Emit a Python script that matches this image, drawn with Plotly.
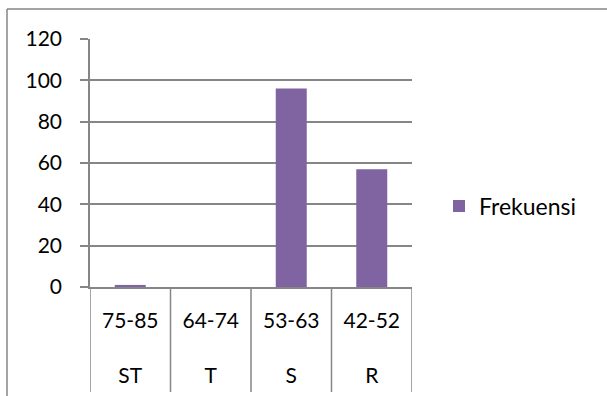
import plotly.graph_objects as go

# Frequency table by score category
kategori = ["ST", "T", "S", "R"]
rentang = ["75-85", "64-74", "53-63", "42-52"]
frekuensi = [1, 0, 96, 57]
y_ticks = [0, 20, 40, 60, 80, 100, 120]

BAR = "#8064A2"
GRID = "#868686"
FONT = "Lato"

W, H = 607, 396
L, R, T, B = 90, 195, 39, 109
plot_h = H - T - B

labels = [f"{r}<br><br>{k}" for r, k in zip(rentang, kategori)]
xs = list(range(len(kategori)))

fig = go.Figure(
    go.Bar(
        x=xs,
        y=frekuensi,
        name="Frekuensi",
        marker=dict(color=BAR, line=dict(width=0)),
    )
)

# vertical dividers between categories, running through both label rows
shapes = []
for i in range(len(kategori) + 1):
    shapes.append(dict(
        type="line", xref="x", yref="paper",
        x0=i - 0.5, x1=i - 0.5, y0=0, y1=-(392 - (H - B)) / plot_h,
        line=dict(color=GRID, width=1.5),
    ))

# chart frame (left and top edges)
fx = (7 - L) / (W - L - R)
fy = ((H - B) - 9) / plot_h
shapes.append(dict(type="line", xref="paper", yref="paper",
                   x0=fx, x1=fx, y0=fy, y1=-2, line=dict(color=GRID, width=1.5)))
shapes.append(dict(type="line", xref="paper", yref="paper",
                   x0=fx, x1=3, y0=fy, y1=fy, line=dict(color=GRID, width=1.5)))

fig.update_layout(
    width=W, height=H,
    margin=dict(l=L, r=R, t=T, b=B, pad=0, autoexpand=False),
    paper_bgcolor="white", plot_bgcolor="white",
    font=dict(family=FONT, size=21, color="black"),
    bargap=0.615,
    showlegend=True,
    legend=dict(
        x=(439 - L) / (W - L - R), xanchor="left",
        y=((H - B) - 206) / plot_h, yanchor="middle",
        font=dict(family=FONT, size=23, color="black"),
        bgcolor="rgba(0,0,0,0)",
    ),
    shapes=shapes,
    xaxis=dict(
        range=[-0.5, len(kategori) - 0.5],
        tickmode="array", tickvals=xs, ticktext=labels,
        showgrid=False, zeroline=False, automargin=False,
        showline=True, linecolor=GRID, linewidth=1.5,
        ticks="", ticklabelstandoff=14,
        tickfont=dict(family=FONT, size=21, color="black"),
    ),
    yaxis=dict(
        range=[0, 120],
        tickmode="array", tickvals=y_ticks,
        showgrid=True, gridcolor=GRID, gridwidth=1.5,
        zeroline=False, automargin=False,
        showline=True, linecolor=GRID, linewidth=1.5,
        ticks="outside", ticklen=8, tickcolor=GRID, tickwidth=1.5,
        ticklabelstandoff=14,
        tickfont=dict(family=FONT, size=21, color="black"),
    ),
)

fig.write_html("out.html")
